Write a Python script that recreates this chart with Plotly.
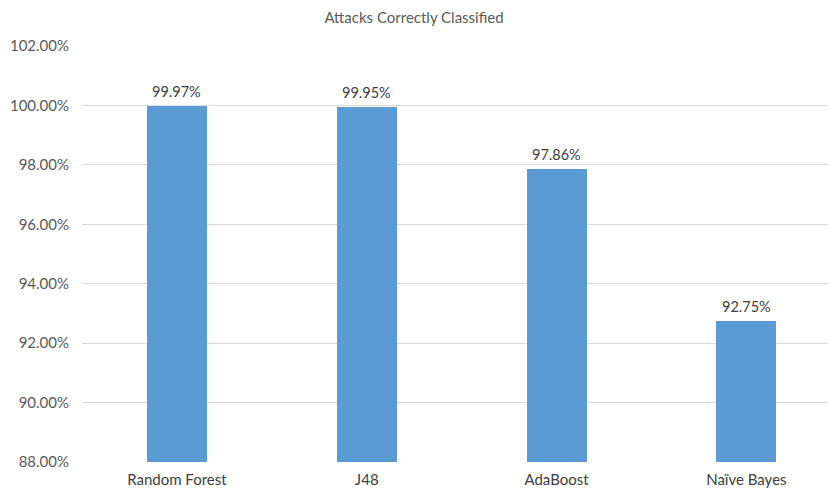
import plotly.graph_objects as go

# Classifier accuracy on attack traffic
classifiers = ["Random Forest", "J48", "AdaBoost", "Naïve Bayes"]
accuracy_pct = [99.97, 99.95, 97.86, 92.75]
y_ticks = [88, 90, 92, 94, 96, 98, 100, 102]
y_tick_labels = [f"{v:.2f}%" for v in y_ticks]

FONT = "Lato, 'Open Sans', sans-serif"

fig = go.Figure(
    go.Bar(
        x=list(range(len(classifiers))),
        y=accuracy_pct,
        width=0.316,
        marker=dict(color="#5B9BD5", line=dict(width=0)),
        hoverinfo="skip",
    )
)

# value labels above each bar
for i, v in enumerate(accuracy_pct):
    fig.add_annotation(
        x=i,
        y=v,
        text=f"{v:.2f}%",
        showarrow=False,
        yanchor="bottom",
        yshift=4,
        font=dict(family=FONT, size=14.5, color="#404040"),
    )

fig.update_layout(
    width=828,
    height=489,
    margin=dict(l=82, r=0, t=46, b=27),
    paper_bgcolor="white",
    plot_bgcolor="white",
    showlegend=False,
    title=dict(
        text="Attacks Correctly Classified",
        x=0.5,
        xanchor="center",
        y=1 - 18 / 489,
        yanchor="middle",
        font=dict(family=FONT, size=15, color="#595959"),
    ),
    xaxis=dict(
        range=[-0.5, 3.43],
        tickmode="array",
        tickvals=list(range(len(classifiers))),
        ticktext=classifiers,
        showgrid=False,
        zeroline=False,
        showline=False,
        ticks="",
        automargin=False,
        ticklabelstandoff=7,
        tickfont=dict(family=FONT, size=15, color="#404040"),
    ),
    yaxis=dict(
        range=[88, 102],
        tickmode="array",
        tickvals=y_ticks,
        ticktext=y_tick_labels,
        showgrid=True,
        gridcolor="#D9D9D9",
        gridwidth=1,
        zeroline=False,
        showline=False,
        ticks="",
        automargin=False,
        ticklabelstandoff=12,
        tickfont=dict(family=FONT, size=15, color="#595959"),
    ),
    bargap=0,
)

fig.write_html("out.html")
